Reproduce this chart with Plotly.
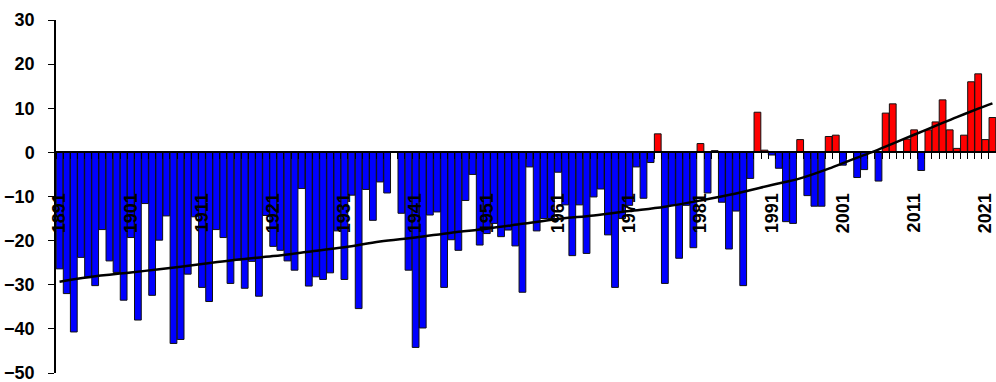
import plotly.graph_objects as go

# Annual anomaly, 1891-2022
years = list(range(1891, 2023))
anomaly = [
    -26.4, -32.0, -40.7, -23.8, -28.4, -30.2, -17.5, -24.6, -27.2, -33.5,   # 1891-1900
    -19.3, -38.0, -11.6, -32.4, -19.9, -14.4, -43.3, -42.4, -27.6, -14.6,   # 1901-1910
    -30.6, -33.8, -17.5, -19.3, -29.7, -24.4, -30.8, -24.7, -32.6, -14.3,   # 1911-1920
    -21.3, -22.2, -24.6, -26.7, -8.2, -30.3, -28.2, -28.8, -27.3, -17.8,    # 1921-1930
    -28.8, -9.7, -35.4, -8.4, -15.4, -6.7, -9.2, 0.0, -13.8, -26.7,         # 1931-1940
    -44.2, -39.8, -14.2, -13.5, -30.6, -19.8, -22.2, -10.9, -5.0, -21.0,    # 1941-1950
    -18.4, -16.1, -19.1, -17.6, -21.2, -31.7, -3.3, -17.8, -15.0, -15.0,    # 1951-1960
    -4.5, -11.9, -23.4, -11.9, -22.9, -10.1, -8.3, -18.7, -30.6, -15.0,     # 1961-1970
    -12.0, -3.3, -10.4, -2.3, 4.2, -29.7, -12.0, -24.0, -12.0, -21.6,       # 1971-1980
    2.0, -9.2, 0.4, -11.3, -21.9, -13.3, -30.2, -5.9, 9.1, 0.5,             # 1981-1990
    -0.6, -3.6, -15.7, -16.1, 2.9, -9.8, -12.2, -12.2, 3.6, 3.9,            # 1991-2000
    -2.9, 0.0, -5.7, -3.9, 0.0, -6.5, 8.9, 11.0, 0.0, 3.0,                  # 2001-2010
    5.1, -4.1, 5.1, 6.9, 11.9, 5.1, 0.9, 3.9, 16.0, 17.8,                   # 2011-2020
    2.9, 7.9,                                                               # 2021-2022
]

# Smoothed trend
trend_years = [1891, 1895, 1901, 1905, 1911, 1915, 1921, 1926, 1931, 1936,
               1941, 1946, 1951, 1956, 1961, 1966, 1971, 1976, 1981, 1986,
               1991, 1995, 1999, 2002, 2005, 2008, 2011, 2014, 2017, 2020, 2022]
trend = [-29.3, -28.3, -27.2, -26.5, -25.3, -24.5, -23.5, -22.5, -21.5, -20.2,
         -19.3, -18.2, -17.3, -16.2, -15.1, -14.3, -13.3, -12.3, -10.9, -9.3,
         -7.4, -5.9, -3.7, -1.8, 0.0, 2.0, 4.0, 6.0, 8.0, 9.9, 11.1]

label_years = list(range(1891, 2023, 10))
y_ticks = list(range(-50, 31, 10))

FONT = "Liberation Sans, Arial, sans-serif"
bar_colors = ["#FF0000" if v > 0 else "#0000FF" for v in anomaly]

fig = go.Figure()
fig.add_trace(go.Bar(
    x=years, y=anomaly,
    marker=dict(color=bar_colors, line=dict(color="#111111", width=1)),
    hoverinfo="x+y",
))
fig.add_trace(go.Scatter(
    x=trend_years, y=trend, mode="lines",
    line=dict(color="black", width=2.5, shape="spline", smoothing=1.0),
    hoverinfo="skip",
))

fig.update_layout(
    width=996, height=382,
    margin=dict(l=56, r=0, t=20, b=9),
    plot_bgcolor="white", paper_bgcolor="white",
    showlegend=False, bargap=0.05,
    font=dict(family=FONT, color="black"),
)

fig.update_xaxes(
    range=[1890.5, 2022.5],
    anchor="free", position=0.625,
    showline=True, linecolor="black", linewidth=1.5,
    showgrid=False, zeroline=False,
    tickmode="array", tickvals=label_years, ticktext=[str(y) for y in label_years],
    ticks="outside", ticklen=6, tickcolor="rgba(0,0,0,0)",
    tickangle=-90, ticklabelstandoff=27, ticklabeloverflow="allow",
    tickfont=dict(family=FONT, size=18, color="black", weight="bold"),
    minor=dict(ticks="outside", ticklen=6, tickcolor="black", tickwidth=1,
               tickmode="linear", tick0=1890.5, dtick=1, showgrid=False),
)
fig.update_yaxes(
    range=[-50, 30],
    showline=True, linecolor="black", linewidth=1.5,
    showgrid=False, zeroline=False,
    tickmode="array", tickvals=y_ticks,
    ticks="outside", ticklen=6, tickcolor="black", tickwidth=1,
    ticklabelstandoff=10, ticklabeloverflow="allow",
    tickfont=dict(family=FONT, size=18, color="black", weight="bold"),
)

fig.write_html("out.html")
